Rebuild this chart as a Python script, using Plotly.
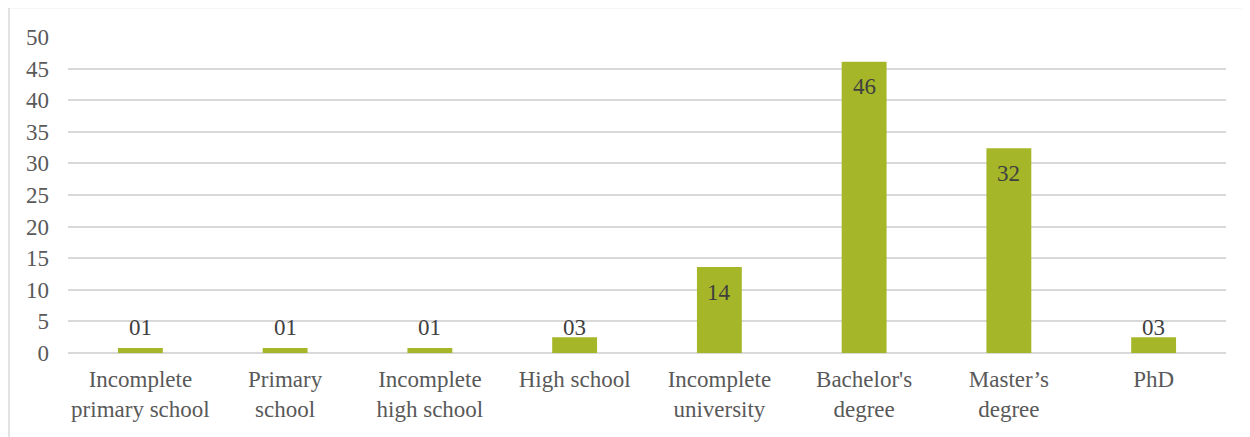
import plotly.graph_objects as go

categories = ["Incomplete<br>primary school", "Primary<br>school", "Incomplete<br>high school",
              "High school", "Incomplete<br>university", "Bachelor's<br>degree",
              "Master\u2019s<br>degree", "PhD"]
values = [0.8, 0.8, 0.8, 2.5, 13.6, 46.1, 32.4, 2.5]
labels = ["01", "01", "01", "03", "14", "46", "32", "03"]
positions = ["outside", "outside", "outside", "outside", "inside", "inside", "inside", "outside"]
y_ticks = [0, 5, 10, 15, 20, 25, 30, 35, 40, 45, 50]

FONT = "Liberation Serif, Times New Roman, serif"
GREEN = "#a5b729"
SIZE = 23
LABEL_FLOOR = 2.5  # outside labels sit no lower than this level

fig = go.Figure(go.Bar(
    x=categories, y=values,
    marker=dict(color=GREEN, line=dict(width=0)),
    hoverinfo="skip",
))

annotations = []
for cat, val, lab, pos in zip(categories, values, labels, positions):
    outside = pos == "outside"
    annotations.append(dict(
        x=cat, y=max(val, LABEL_FLOOR) if outside else val, xref="x", yref="y",
        text=lab, showarrow=False,
        yanchor="middle", yshift=10 if outside else -25,
        font=dict(family=FONT, size=SIZE, color="#404040"),
    ))

fig.update_layout(
    width=1250, height=437,
    margin=dict(l=60, r=32, t=29, b=92),
    paper_bgcolor="white", plot_bgcolor="white",
    bargap=0.69,
    showlegend=False,
    font=dict(family=FONT, size=SIZE, color="#595959"),
    annotations=annotations,
    xaxis=dict(showgrid=False, showline=False, ticks="", ticklabelstandoff=10,
               tickfont=dict(size=SIZE, color="#595959")),
    yaxis=dict(range=[0, 50], tickvals=y_ticks, showgrid=True, gridcolor="#d9d9d9",
               gridwidth=1.5, zeroline=True, zerolinecolor="#d9d9d9", zerolinewidth=1.5,
               ticks="", ticklabelstandoff=18,
               tickfont=dict(size=SIZE, color="#595959")),
    shapes=[dict(type="rect", xref="paper", yref="paper",
                 x0=(1 - 60) / 1158, x1=1.2, y0=-0.5, y1=1 + 29.5 / 316,
                 line=dict(color="#d9d9d9", width=1.5), fillcolor="rgba(0,0,0,0)", layer="below")],
)

fig.write_html("out.html")
